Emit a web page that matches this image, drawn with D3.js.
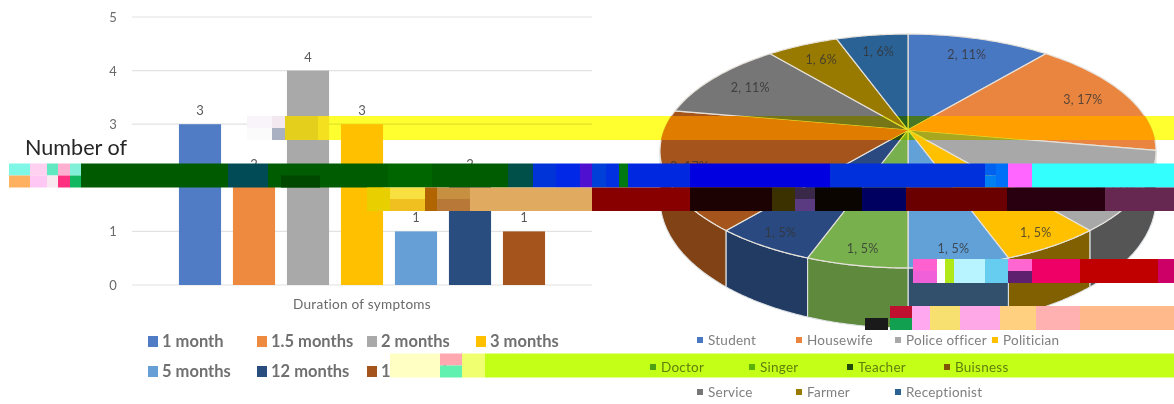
<!DOCTYPE html>
<html><head><meta charset="utf-8">
<script src="https://cdn.jsdelivr.net/npm/d3@7"></script>
<style>html,body{margin:0;padding:0;background:#fff;overflow:hidden}svg{display:block}text{font-family:Lato,"Open Sans",sans-serif}</style>
</head><body><svg id="c" width="1174" height="404"></svg>
<script>
// ---- data ----
const durationCategories = ["1 month","1.5 months","2 months","3 months","5 months","12 months","18 months"];
const durationValues = [3,2,4,3,1,2,1];
const durationColors = ["#4f7cc4","#ed8a3f","#a9a9a9","#ffc000","#659fd6","#2c4e80","#a5541a"];
const yTicks = [0,1,2,3,4,5];
const occupationCategories = ["Student","Housewife","Police officer","Politician","Doctor","Singer","Teacher","Buisness","Service","Farmer","Receptionist"];
const occupationValues = [2,3,2,1,1,1,1,3,2,1,1];
const occupationPercents = ["11%","17%","11%","5%","5%","5%","5%","17%","11%","6%","6%"];
const occupationColors = ["#4a78c2","#ea8540","#a8a8a8","#ffc000","#62a0d8","#78b04e","#2a4a80","#a5541a","#767676","#997a00","#2a6296"];
const occupationBandTints = [null,"#ffa000",null,null,null,null,null,"#e07c00",null,null,null];

const svg = d3.select("#c");
svg.append("rect").attr("width",1174).attr("height",404).attr("fill","#fff");
const defs = svg.append("defs");
defs.append("filter").attr("id","soft").attr("x",0).attr("y",0).attr("width","100%").attr("height","100%")
  .append("feGaussianBlur").attr("stdDeviation",0.45);
defs.append("clipPath").attr("id","bandA").append("rect").attr("x",600).attr("y",116).attr("width",574).attr("height",24);
const g = svg.append("g").attr("filter","url(#soft)");

// ---- bar chart ----
const y = d3.scaleLinear().domain([0,5]).range([285,17]);
const x = d3.scaleBand().domain(durationCategories).range([173,551]).paddingInner(0.22).paddingOuter(0.11);
g.append("g").selectAll("line").data(yTicks).join("line")
  .attr("x1",132).attr("x2",592).attr("y1",d=>y(d)).attr("y2",d=>y(d)).attr("stroke","#e2e2e2").attr("stroke-width",1.2);
g.append("g").selectAll("text").data(yTicks).join("text")
  .attr("x",113).attr("y",d=>y(d)+5).attr("text-anchor","middle").attr("font-size",13).attr("fill","#6a6a6a").text(d=>d);
g.append("g").selectAll("rect").data(durationCategories).join("rect")
  .attr("x",d=>x(d)).attr("width",x.bandwidth())
  .attr("y",(d,i)=>y(durationValues[i])).attr("height",(d,i)=>y(0)-y(durationValues[i]))
  .attr("fill",(d,i)=>durationColors[i]);
g.append("g").selectAll("text").data(durationCategories).join("text")
  .attr("x",d=>x(d)+x.bandwidth()/2).attr("y",(d,i)=>y(durationValues[i])-9)
  .attr("text-anchor","middle").attr("font-size",13).attr("fill","#5a5a5a").text((d,i)=>durationValues[i]);
g.append("text").attr("x",362).attr("y",309).attr("text-anchor","middle").attr("font-size",13.6).attr("letter-spacing",0.25).attr("fill","#6a6a6a").text("Duration of symptoms");
g.append("text").attr("x",25).attr("y",155).attr("font-size",21.6).attr("fill","#262626").text("Number of");

// left legend
const leftCols = [148,257,367,476], leftRows = [341,371];
const left = g.append("g").selectAll("g").data(durationCategories).join("g")
  .attr("transform",(d,i)=>`translate(${leftCols[i<4?i:i-4]},${leftRows[i<4?0:1]})`);
left.append("rect").attr("y",-5).attr("width",10).attr("height",11).attr("fill",(d,i)=>durationColors[i]);
left.append("text").attr("x",14).attr("y",6).attr("font-size",16.5).attr("font-weight",700).attr("fill","#707070").text(d=>d);

// ---- perspective pie ----
const apex = {x:908,y:130}, tilt = 0.1795, ax = 244, ay = 113.2;
const deg = Math.PI/180;
const project = (r,t)=>{ const px=r*Math.sin(t), py=-r*Math.cos(t), w=1-tilt*py;
  return [apex.x+ax*px/w, apex.y+ay*py/w]; };
const depth = t => 45-15*Math.cos(t);
const arcs = d3.pie().sort(null).value(d=>d)(occupationValues);
const line = d3.line();
const rim = (a,b)=>d3.range(0,41).map(i=>a+(b-a)*i/40);
const wedge = a=>line([[apex.x,apex.y]].concat(rim(a.startAngle,a.endAngle).map(t=>project(1,t))))+"Z";
const wallFrom = 100*deg, wallTo = 260*deg, bottom = 180*deg;
const walls = arcs.map((a,i)=>({i,a0:Math.max(a.startAngle,wallFrom),a1:Math.min(a.endAngle,wallTo),mid:(a.startAngle+a.endAngle)/2}))
  .filter(d=>d.a1>d.a0)
  .sort((p,q)=>Math.abs(q.mid-bottom)-Math.abs(p.mid-bottom));
const pieG = g.append("g");
pieG.selectAll("path.wall").data(walls).join("path").attr("class","wall")
  .attr("d",d=>{ const ts=rim(d.a0,d.a1);
    const top=ts.map(t=>project(1,t));
    const low=ts.slice().reverse().map(t=>{const p=project(1,t);return [p[0],p[1]+depth(t)];});
    return line(top.concat(low))+"Z"; })
  .attr("fill",d=>{ const c=d3.rgb(occupationColors[d.i]), f=d.mid<bottom?0.5:0.78; return d3.rgb(c.r*f,c.g*f,c.b*f).formatHex(); })
  .attr("stroke","#dfe3e6").attr("stroke-width",1.1);
pieG.selectAll("path.slice").data(arcs).join("path").attr("class","slice")
  .attr("d",wedge).attr("fill",(a,i)=>occupationColors[i]).attr("stroke","#e6e2da").attr("stroke-width",1.2);
pieG.append("g").attr("clip-path","url(#bandA)").selectAll("path")
  .data(arcs.filter((a,i)=>occupationBandTints[i])).join("path")
  .attr("d",wedge).attr("fill",a=>occupationBandTints[a.index]);
pieG.selectAll("text").data(arcs).join("text")
  .attr("transform",a=>{const m=(a.startAngle+a.endAngle)/2, p=project(Math.cos(m)<0?0.9:0.8,m);return `translate(${p[0]},${p[1]+4})`;})
  .attr("text-anchor","middle").attr("font-size",12.5).attr("letter-spacing",0.2).attr("fill","#333").attr("fill-opacity",0.8)
  .text((a,i)=>`${occupationValues[i]}, ${occupationPercents[i]}`);

// right legend
const rightPos = [[697,340],[796,340],[895,340],[992,340],[650,367],[749,367],[847,367],[944,367],[697,392],[796,392],[895,392]];
const right = g.append("g").selectAll("g").data(occupationCategories).join("g")
  .attr("transform",(d,i)=>`translate(${rightPos[i][0]},${rightPos[i][1]})`);
right.append("rect").attr("y",-3).attr("width",6).attr("height",6).attr("fill",(d,i)=>occupationColors[i]);
right.append("text").attr("x",11).attr("y",5).attr("font-size",13.5).attr("letter-spacing",0.25).attr("fill","#7f7f7f").text(d=>d);

// ---- horizontal corruption bands of the source image ----
const bandRows = {A:[116,140],A1:[116,128],A2:[128,140],B:[163.5,187.5],B1:[163.5,175.5],B2:[175.5,187.5],
  C:[187.5,211],C1:[187.5,199],C2:[199,211],D:[259,283],D1:[259,271],D2:[271,283],E:[306,330],E1:[306,318],E2:[318,330],F:[353.5,377.5],F1:[353.5,365.5],F2:[365.5,377.5]};
const artifacts = [
 // [row, x0, x1, fill, blend]
 ["A1",247,272,"#f9f4f9"],["A2",247,272,"#fbfbfb"],["A1",272,285,"#f4e8f0"],["A2",272,285,"#a9b0c2"],["A",285,318,"#e4cf1c"],["A",318,329,"#f5e020"],
 ["A",329,1174,"#ffff30","multiply"],
 ["B1",9,30,"#7ef7e6"],["B2",9,30,"#ffb060"],["B1",30,47,"#ffd0f0"],["B2",30,47,"#ffc8f4"],["B1",47,58,"#60e8c0"],["B2",47,58,"#f8e8f0"],
 ["B1",58,70,"#ffb0d0"],["B2",58,70,"#ff3080"],["B1",70,81,"#80f0d8"],["B2",70,81,"#10b860"],
 ["B",81,228,"#005a00"],["B",228,268,"#004b55"],["B",268,388,"#005c00"],["B2",281,320,"#004800"],
 ["B",388,432,"#006600"],["B",432,508,"#005c00"],["B",508,533,"#00504a"],["B",533,556,"#0034d8"],["B",556,580,"#0028e6"],
 ["B",580,592,"#5010d0"],["B",592,606,"#0040d8"],["B",606,619,"#0030e0"],["B",619,628,"#007a10"],["B",628,690,"#0028e0"],
 ["B",690,830,"#0000e0"],["B",830,985,"#0030dc"],["B1",985,996,"#0060f0"],["B2",985,996,"#0080f0"],["B",996,1008,"#0070f8"],["B",1008,1032,"#ff66ff"],
 ["B",1032,1174,"#33ffff"],
 ["C",367,390,"#e8d000"],["C1",390,425,"#f7e040"],["C2",390,425,"#f0c020"],["C",425,437,"#b06500"],["C1",437,470,"#c69040"],["C2",437,470,"#b87838"],["C",470,592,"#e0aa60"],
 ["C",592,690,"#880000"],["C",690,772,"#1c0202"],["C",772,795,"#3a3000"],["C1",795,815,"#3a2848"],["C2",795,815,"#5a3a80"],["C",815,862,"#0a0500"],
 ["C",862,906,"#000060"],["C",906,1007,"#6a0000"],["C",1007,1105,"#280010"],["C",1105,1174,"#662850"],
 ["D1",913,937,"#ff60d0"],["D2",913,937,"#f060d8"],["D",937,945,"#ffffff"],["D",945,954,"#b0e818"],["D",954,985,"#b8f4ff"],["D",985,1008,"#66ccf0"],
 ["D1",1008,1032,"#ff66d0"],["D2",1008,1032,"#602070"],["D",1032,1080,"#ee0066"],["D",1080,1158,"#c00000"],["D",1158,1174,"#cc0066"],
 ["E2",865,888,"#1a1a1a"],["E1",890,912,"#c01030"],["E2",890,912,"#10a050"],["E",912,930,"#ffa8f0"],["E",930,960,"#f8e070"],["E",960,1000,"#ffa8e8"],["E",1000,1036,"#ffd080"],
 ["E",1036,1080,"#ffb0b0"],["E",1080,1174,"#ffb98a"],
 ["F",390,440,"#ffffc4"],["F1",440,462,"#ffa8b0"],["F2",440,462,"#60f0b0"],["F",462,485,"#f0ff70"],
 ["F",485,1174,"#c4ff18","multiply"]
];
svg.append("g").selectAll("rect").data(artifacts).join("rect")
  .attr("x",d=>d[1]).attr("width",d=>d[2]-d[1])
  .attr("y",d=>bandRows[d[0]][0]).attr("height",d=>bandRows[d[0]][1]-bandRows[d[0]][0])
  .attr("fill",d=>d[3]).style("mix-blend-mode",d=>d[4]||"normal");
</script></body></html>
